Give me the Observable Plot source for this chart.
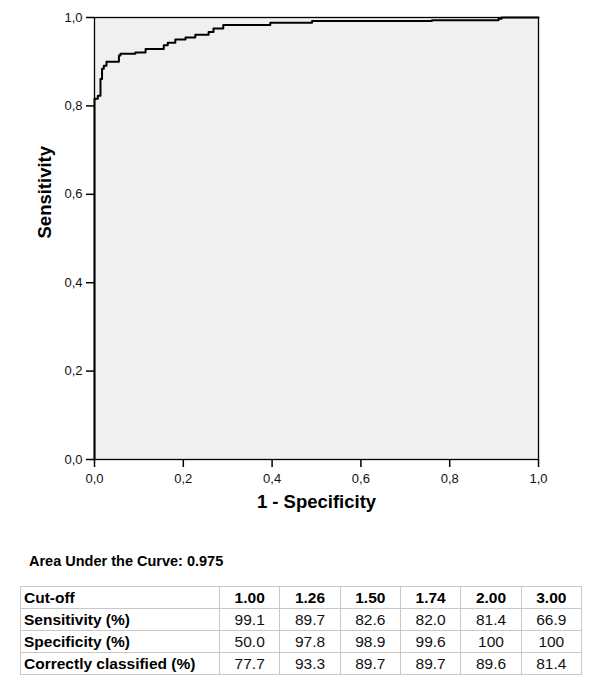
<!DOCTYPE html>
<html>
<head>
<meta charset="utf-8">
<script src="https://cdn.jsdelivr.net/npm/d3@7"></script>
<script src="https://cdn.jsdelivr.net/npm/@observablehq/plot@0.6"></script>
<style>
  body { margin: 0; background: #fff; font-family: "Liberation Sans", Arial, sans-serif; }
  #auc { margin: 22px 0 0 29px; font-weight: bold; font-size: 14.5px; line-height: 18px; color: #000; }
  table { margin: 16px 0 0 20px; border-collapse: collapse; font-size: 15.5px; width: 562px; table-layout: fixed; }
  td { border: 1.5px solid #c8c8c8; height: 21px; padding: 0 3px; line-height: 20px; text-align: center; color: #111; }
  td.lab { text-align: left; font-weight: bold; width: 192px; color: #000; }
  tr.head td { font-weight: bold; color: #000; }
</style>
</head>
<body>
<div id="chart"></div>
<div id="auc"></div>
<table id="tbl"></table>
<script>
// ROC curve vertices (1 - specificity, sensitivity)
const fpr = [0, 0, 0.0075, 0.0135, 0.017, 0.021, 0.027, 0.055, 0.0585, 0.092, 0.115, 0.156, 0.165, 0.182, 0.205, 0.227, 0.257, 0.268, 0.290, 0.396, 0.49, 0.76, 0.91, 0.917, 1];
const tpr = [0, 0.816, 0.823, 0.861, 0.884, 0.891, 0.900, 0.914, 0.918, 0.921, 0.929, 0.937, 0.943, 0.950, 0.955, 0.961, 0.967, 0.975, 0.983, 0.988, 0.992, 0.994, 0.997, 1.0, 1.0];
const ticks = [0, 0.2, 0.4, 0.6, 0.8, 1.0];
const xLabel = "1 - Specificity";
const yLabel = "Sensitivity";
const aucText = "Area Under the Curve: 0.975";
const cutoffs = ["1.00", "1.26", "1.50", "1.74", "2.00", "3.00"];
const sensitivity = ["99.1", "89.7", "82.6", "82.0", "81.4", "66.9"];
const specificity = ["50.0", "97.8", "98.9", "99.6", "100", "100"];
const correct = ["77.7", "93.3", "89.7", "89.7", "89.6", "81.4"];
const rowLabels = ["Cut-off", "Sensitivity (%)", "Specificity (%)", "Correctly classified (%)"];

const data = fpr.map((x, i) => ({x, y: tpr[i]}));
const fmt = d => d.toFixed(1).replace(".", ",");

const chart = Plot.plot({
  width: 600,
  height: 530,
  marginLeft: 94,
  marginRight: 62,
  marginTop: 17,
  marginBottom: 71,
  style: {fontFamily: "'Liberation Sans', Arial, sans-serif", color: "#000", background: "#fff"},
  x: {domain: [0, 1]},
  y: {domain: [0, 1]},
  marks: [
    Plot.frame({fill: "#f0f0f0", stroke: "none"}),
    Plot.line(data, {x: "x", y: "y", curve: "step-after", stroke: "#000", strokeWidth: 2}),
    Plot.frame({stroke: "#000", strokeWidth: 1.3}),
    Plot.axisX({ticks, tickFormat: () => "", tickSize: 8, label: null, strokeWidth: 1.5}),
    Plot.axisY({ticks, tickFormat: () => "", tickSize: 8, label: null, strokeWidth: 1.5}),
    Plot.text(ticks, {x: d => d, text: fmt, frameAnchor: "bottom", lineAnchor: "top", dy: 14, fontSize: 13, fill: "#111"}),
    Plot.text(ticks, {y: d => d, text: fmt, frameAnchor: "left", textAnchor: "end", dx: -12, fontSize: 13, fill: "#111"}),
    Plot.text([xLabel], {frameAnchor: "bottom", dy: 48, fontWeight: "bold", fontSize: 18.5, fill: "#000"}),
    Plot.text([yLabel], {frameAnchor: "left", dx: -49, rotate: -90, fontWeight: "bold", fontSize: 18.5, fill: "#000"})
  ]
});
document.getElementById("chart").append(chart);
document.getElementById("auc").textContent = aucText;

const rows = [cutoffs, sensitivity, specificity, correct];
const tbl = document.getElementById("tbl");
rows.forEach((vals, r) => {
  const tr = document.createElement("tr");
  if (r === 0) tr.className = "head";
  const th = document.createElement("td");
  th.className = "lab";
  th.textContent = rowLabels[r];
  tr.append(th);
  vals.forEach(v => {
    const td = document.createElement("td");
    td.textContent = v;
    tr.append(td);
  });
  tbl.append(tr);
});
</script>
</body>
</html>
